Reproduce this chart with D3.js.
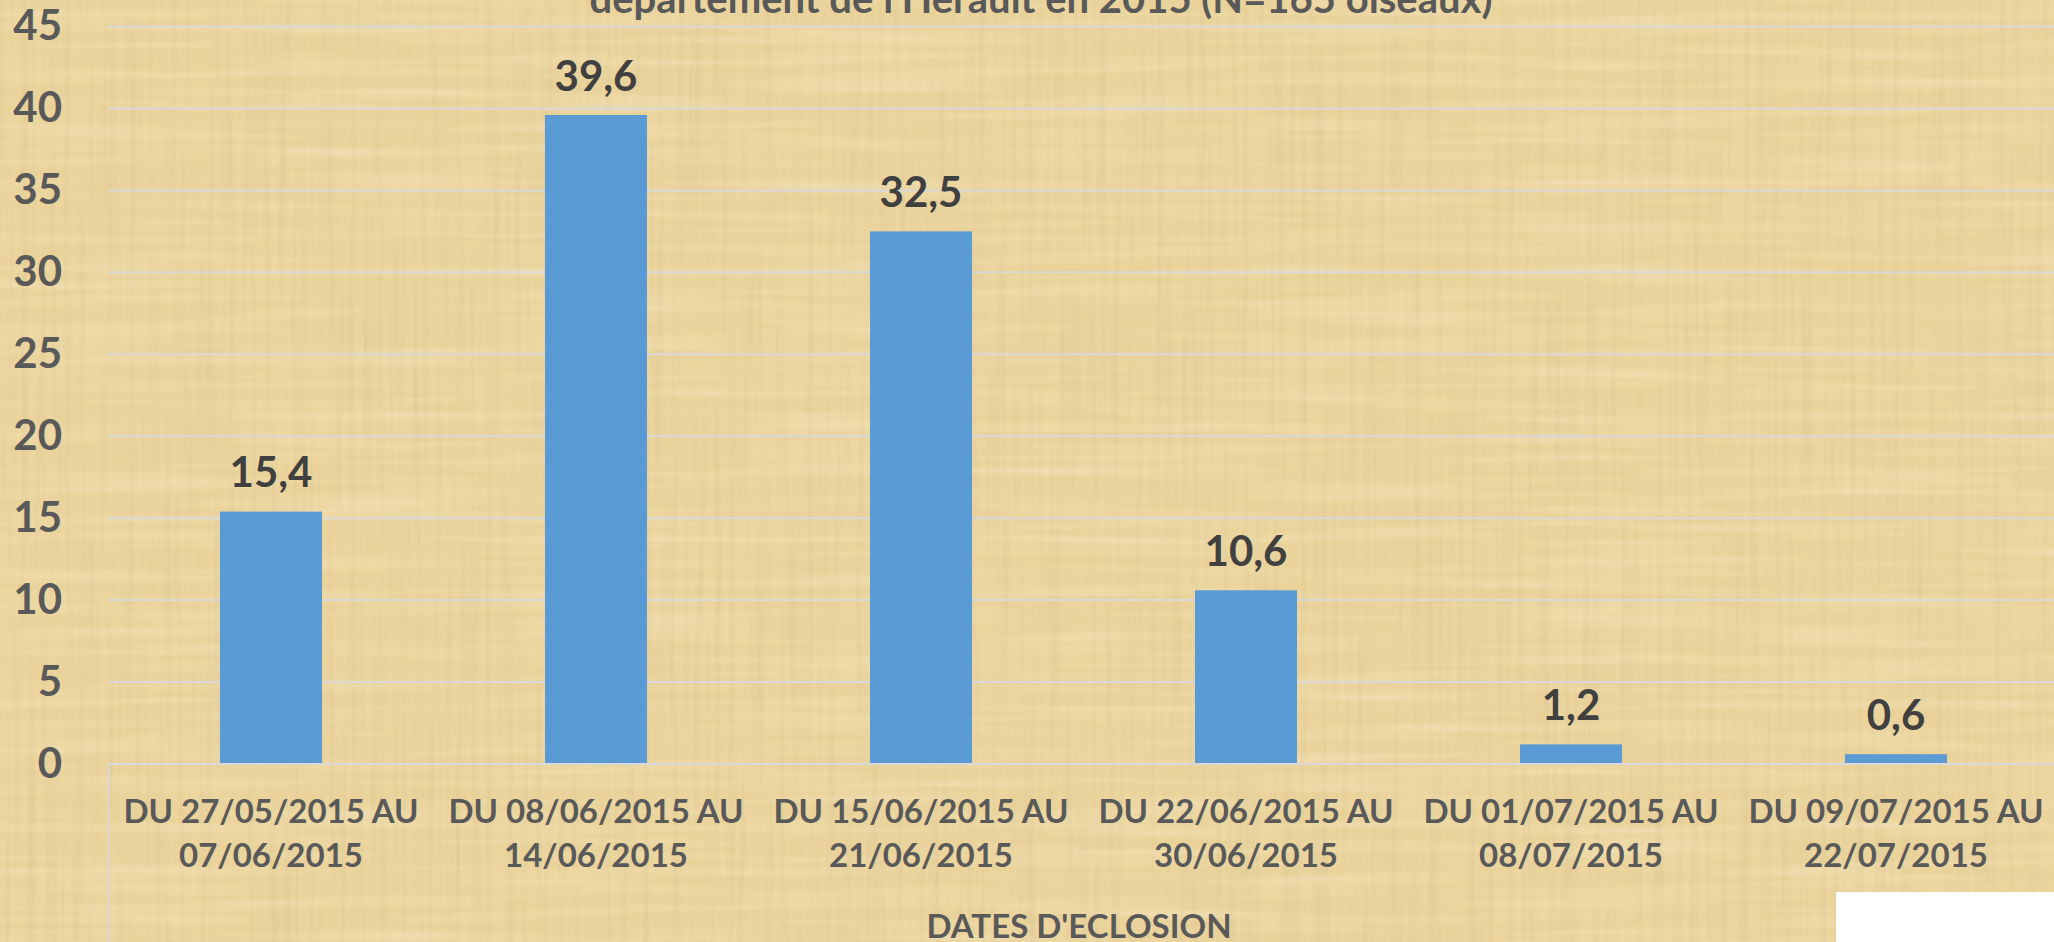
<!DOCTYPE html>
<html>
<head>
<meta charset="utf-8" />
<script src="https://cdn.jsdelivr.net/npm/d3@7"></script>
<title>dates d'eclosion</title>
<style>
  html, body { margin: 0; padding: 0; background: #fff; }
  svg text { font-family: Lato, "Open Sans", sans-serif; font-weight: bold; }
</style>
</head>
<body>
<script>
// values
const categories = [
  ["DU 27/05/2015 AU", "07/06/2015"],
  ["DU 08/06/2015 AU", "14/06/2015"],
  ["DU 15/06/2015 AU", "21/06/2015"],
  ["DU 22/06/2015 AU", "30/06/2015"],
  ["DU 01/07/2015 AU", "08/07/2015"],
  ["DU 09/07/2015 AU", "22/07/2015"]
];
const values = [15.4, 39.6, 32.5, 10.6, 1.2, 0.6];
const yTicks = [0, 5, 10, 15, 20, 25, 30, 35, 40, 45];
const titleText = "département de l'Hérault en 2015 (N=165 oiseaux)";
const axisTitle = "DATES D'ECLOSION";

const w = 2054, h = 942;
const left = 108.5, right = 2058.5, y0 = 764, yTop = 26.5;

const svg = d3.select("body").append("svg")
  .attr("width", w)
  .attr("height", h);

// papyrus-like background
const defs = svg.append("defs");
const f1 = defs.append("filter").attr("id", "fibV")
  .attr("x", 0).attr("y", 0).attr("width", "100%").attr("height", "100%");
f1.append("feTurbulence").attr("type", "fractalNoise")
  .attr("baseFrequency", "0.14 0.004").attr("numOctaves", 3).attr("seed", 4);
f1.append("feColorMatrix").attr("type", "matrix")
  .attr("values", "0 0 0 0 0.66  0 0 0 0 0.52  0 0 0 0 0.26  0.8 0 0 0 -0.33");
const f2 = defs.append("filter").attr("id", "fibH")
  .attr("x", 0).attr("y", 0).attr("width", "100%").attr("height", "100%");
f2.append("feTurbulence").attr("type", "fractalNoise")
  .attr("baseFrequency", "0.004 0.09").attr("numOctaves", 2).attr("seed", 9);
f2.append("feColorMatrix").attr("type", "matrix")
  .attr("values", "0 0 0 0 0.99  0 0 0 0 0.92  0 0 0 0 0.76  0.6 0 0 0 -0.26");

svg.append("rect").attr("width", w).attr("height", h).attr("fill", "#ebd49c");
svg.append("rect").attr("width", w).attr("height", h).attr("filter", "url(#fibV)");
svg.append("rect").attr("width", w).attr("height", h).attr("filter", "url(#fibH)");

const x = d3.scaleBand()
  .domain(d3.range(categories.length))
  .range([left, right])
  .paddingInner(0.686)
  .paddingOuter(0.343);

const y = d3.scaleLinear()
  .domain([0, 45])
  .range([y0, yTop]);

// title (only its last line is inside the picture)
svg.append("text")
  .attr("x", 1041)
  .attr("y", 13)
  .attr("text-anchor", "middle")
  .attr("fill", "#595959")
  .attr("font-size", 40)
  .text(titleText);

// gridlines
svg.append("g")
  .selectAll("line")
  .data(yTicks)
  .join("line")
  .attr("x1", left)
  .attr("x2", w)
  .attr("y1", d => y(d))
  .attr("y2", d => y(d))
  .attr("stroke", "#d9d9d9")
  .attr("stroke-width", 2);

// y axis labels
const yAxis = d3.axisLeft(y).tickValues(yTicks).tickSize(0).tickPadding(0);
const ya = svg.append("g")
  .attr("transform", "translate(62,0)")
  .call(yAxis);
ya.select(".domain").remove();
ya.selectAll("text")
  .attr("font-family", "Lato, sans-serif")
  .attr("font-weight", "bold")
  .attr("font-size", 42)
  .attr("fill", "#595959");

// bars
svg.append("g")
  .selectAll("rect")
  .data(values)
  .join("rect")
  .attr("x", (d, i) => x(i))
  .attr("y", d => y(d))
  .attr("width", x.bandwidth())
  .attr("height", d => y0 - y(d))
  .attr("fill", "#5b9bd5");

// data labels
svg.append("g")
  .selectAll("text")
  .data(values)
  .join("text")
  .attr("x", (d, i) => x(i) + x.bandwidth() / 2)
  .attr("y", d => y(d) - 24.5)
  .attr("text-anchor", "middle")
  .attr("font-size", 42)
  .attr("fill", "#404040")
  .text(d => String(d).replace(".", ","));

// category axis line + left edge of the label box
svg.append("line")
  .attr("x1", left).attr("x2", w)
  .attr("y1", y0).attr("y2", y0)
  .attr("stroke", "#d9d9d9").attr("stroke-width", 2);
svg.append("line")
  .attr("x1", left).attr("x2", left)
  .attr("y1", y0).attr("y2", h)
  .attr("stroke", "#d9d9d9").attr("stroke-width", 2);

// category labels (two lines each)
const cat = svg.append("g")
  .selectAll("text")
  .data(categories)
  .join("text")
  .attr("text-anchor", "middle")
  .attr("font-size", 33)
  .attr("fill", "#595959");
cat.each(function(d, i) {
  const t = d3.select(this);
  d.forEach((line, k) => {
    t.append("tspan")
      .attr("x", x(i) + x.bandwidth() / 2)
      .attr("y", 823 + k * 44)
      .text(line);
  });
});

// axis title
svg.append("text")
  .attr("x", 1079)
  .attr("y", 938)
  .attr("text-anchor", "middle")
  .attr("font-size", 33)
  .attr("fill", "#595959")
  .text(axisTitle);

// white patch in the lower right corner
svg.append("rect")
  .attr("x", 1836).attr("y", 892)
  .attr("width", w - 1836).attr("height", h - 892)
  .attr("fill", "#ffffff");
</script>
</body>
</html>
